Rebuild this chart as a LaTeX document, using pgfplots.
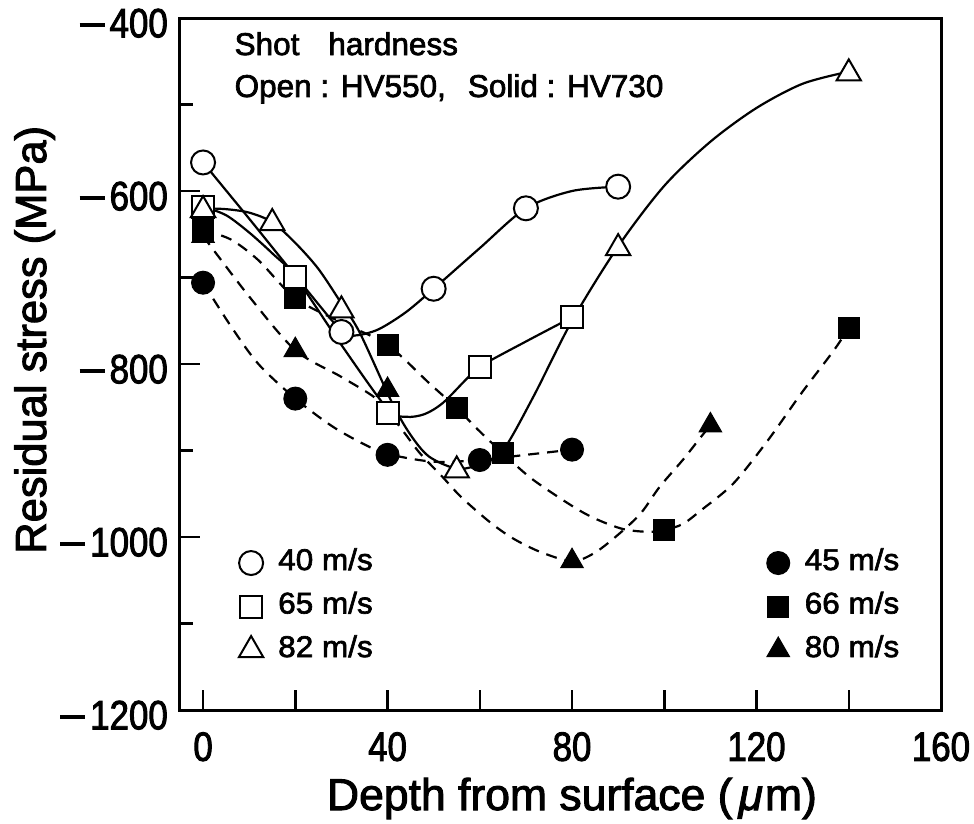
\documentclass[border=0pt]{standalone}
\usepackage{pgfplots}
\pgfplotsset{compat=1.18}
\usepackage{fontspec}
\setmainfont{Liberation Sans}
\newfontfamily\tickfont{Liberation Sans}[FakeStretch=0.85,FakeBold=2.2]
\newfontfamily\labfont{Liberation Sans}[FakeBold=2.2]
\newfontfamily\legfont{Liberation Sans}[FakeStretch=1.05,FakeBold=2.2]
\newcommand\mn{\rule[10.5pt]{25pt}{3.4pt}\hspace{5pt}}
\begin{document}
\begin{tikzpicture}
\useasboundingbox (-180pt,-113pt) rectangle (794pt,710pt);
\begin{axis}[
  at={(0pt,0pt)}, anchor=south west,
  scale only axis, width=761pt, height=692pt,
  xmin=-5, xmax=160, ymin=-1200, ymax=-400,
  axis line style={line width=3pt},
  xtick={0,20,...,160}, xticklabels={0,,40,,80,,120,,160},
  ytick={-1200,-1000,...,-400},
  yticklabels={\mn1200,\mn1000,\mn800,\mn600,\mn400},
  minor ytick={-1100,-900,-700,-500},
  tick pos=left, tick align=inside,
  major tick length=20pt, minor tick length=13pt,
  every tick/.style={black, line width=2.5pt},
  ticklabel style={font=\tickfont\fontsize{41}{41}\selectfont, inner sep=0pt},
  xticklabel style={anchor=north, yshift=-22pt},
  yticklabel style={anchor=east, xshift=-12pt, text depth=0pt, yshift=-5pt},
  clip=false,
  legend columns=3, transpose legend,
  legend style={draw=none, fill=none, inner sep=0pt, outer sep=0pt,
    at={(0.0775,0.2355)}, anchor=north west,
    font=\legfont\fontsize{30}{30}\selectfont,
    nodes={inner sep=0pt, anchor=base west, text height=23pt, text depth=7pt},
    row sep=13.5pt,
    /tikz/every odd column/.append style={column sep=15pt},
    /tikz/every even column/.append style={column sep=394pt}},
  legend image code/.code={\draw[#1] plot coordinates {(0pt,7pt)};},
  curve/.style={black, line width=2.2pt, smooth, tension=0.5, mark=none},
  dcurve/.style={curve, dash pattern=on 11pt off 8pt},
  omark/.style={only marks, mark options={fill=white, draw=black, line width=2pt}},
  smark/.style={only marks, mark options={fill=black, draw=black, line width=1pt}},
]
% ---- fitted curves ----
\addplot[curve, forget plot] coordinates {(0,-567) (10,-632) (20,-698) (30,-762) (33,-767) (38,-760) (44,-740) (50,-713) (60,-666) (70,-620) (80,-600) (90,-595)};
\addplot[curve, forget plot] coordinates {(0,-618) (5,-628) (10,-648) (15,-672) (20,-699) (30,-778) (40,-852) (44,-861) (48,-858) (52,-845) (57,-818) (60,-803) (70,-774) (80,-746)};
\addplot[curve, forget plot] coordinates {(0,-620) (5,-621) (10,-625) (15,-636) (20,-660) (25,-690) (30,-730) (34,-764) (41,-845) (45,-882) (49,-907) (55,-921) (60,-916) (65,-900) (71.6,-838) (80,-750) (90,-664) (100,-594) (110,-543) (120,-504) (130,-476) (140,-462)};
\addplot[dcurve, forget plot] coordinates {(0,-706) (6,-756) (12,-800) (20,-840) (28,-872) (35,-893) (40,-904) (50,-913) (60,-911) (70,-905) (80,-899)};
\addplot[dcurve, forget plot] coordinates {(0,-645) (6,-656) (12,-680) (20,-724) (30,-752) (40,-778) (49,-822) (55,-851) (60,-878) (65,-903) (71.6,-934) (82.5,-972) (90.5,-990) (96.4,-994) (100,-992) (104,-985) (108,-969) (115,-938) (122.5,-888) (129.7,-834) (136.8,-784) (140,-758)};
\addplot[dcurve, forget plot] coordinates {(0,-652) (10,-722) (20,-784) (30,-815) (38,-842) (43,-875) (47,-903) (52,-931) (56,-954) (62,-982) (67,-1001) (73,-1017) (80,-1028) (85,-1018) (90.5,-995) (95,-972) (99,-942) (104,-911) (108,-884) (110,-871)};
% ---- measured points ----
% 80 m/s point at the surface, hidden under the 66 m/s square
\addplot[smark, mark=triangle*, mark size=13pt, forget plot] coordinates {(0,-652)};
\addplot[omark, mark=*, mark size=12pt] coordinates {(0,-567) (30,-763) (50,-713) (70,-620) (90,-595)};
\addlegendentry{40 m/s}
\addplot[omark, mark=square*, mark size=11pt] coordinates {(0,-618) (20,-699) (40,-857) (60,-803) (80,-746)};
\addlegendentry{65 m/s}
\addplot[omark, mark=triangle*, mark size=14pt] coordinates {(0,-622) (15,-637) (30,-738) (55,-923) (90,-666) (140,-464)};
\addlegendentry{82 m/s}
\addplot[smark, mark=*, mark size=11.5pt] coordinates {(0,-706) (20,-840) (40,-905) (60,-911) (80,-899)};
\addlegendentry{45 m/s}
\addplot[smark, mark=square*, mark size=10.5pt] coordinates {(0,-645) (20,-724) (40,-778) (55,-851) (65,-903) (100,-992) (140,-758)};
\addlegendentry{66 m/s}
\addplot[smark, mark=triangle*, mark size=13pt] coordinates {(20,-784) (40,-830) (80,-1028) (110,-871)};
\addlegendentry{80 m/s}
% ---- texts ----
\node[anchor=base west, font=\labfont\fontsize{31.5}{31.5}\selectfont, inner sep=0pt] at (axis cs:6.8,-442.8) {Shot\hspace{29pt}hardness};
\node[anchor=base west, font=\labfont\fontsize{31.5}{31.5}\selectfont, inner sep=0pt] at (axis cs:6.8,-491.3) {Open : HV550,\hspace{22pt}Solid : HV730};
\node[anchor=base, font=\labfont\fontsize{44.5}{44.5}\selectfont, inner sep=0pt] at ([yshift=-100pt]rel axis cs:0.515,0) {Depth from surface (\hspace{6pt}\textit{μ}\hspace{2pt}m)};
\node[anchor=base, rotate=90, font=\labfont\fontsize{43.5}{43.5}\selectfont, inner sep=0pt] at ([xshift=-134pt]rel axis cs:0,0.535) {Residual stress (MPa)};
\end{axis}
\end{tikzpicture}
\end{document}
